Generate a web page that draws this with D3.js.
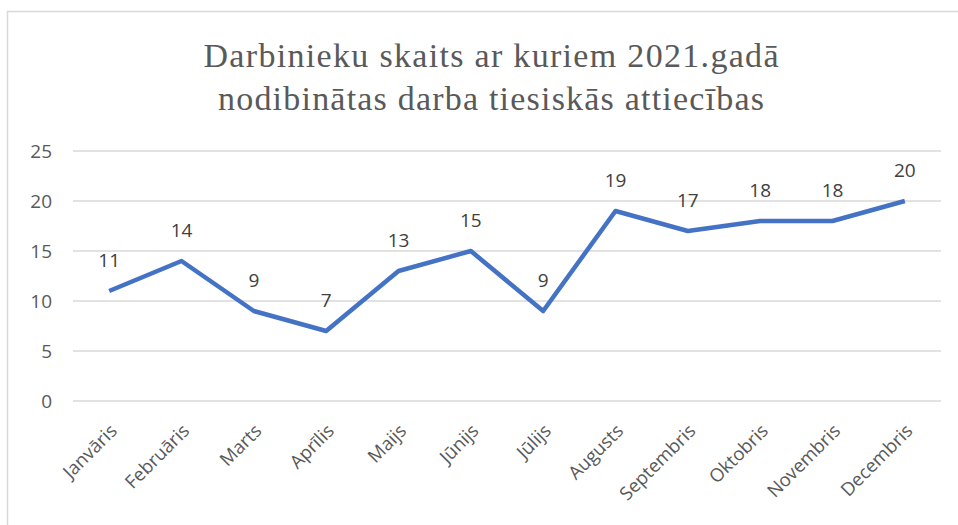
<!DOCTYPE html>
<html>
<head>
<meta charset="utf-8">
<script src="https://cdn.jsdelivr.net/npm/d3@7"></script>
<style>
  body { margin: 0; background: #fff; }
  svg { display: block; }
</style>
</head>
<body>
<script>
// chart data
var months = ["Janvāris", "Februāris", "Marts", "Aprīlis", "Maijs", "Jūnijs",
              "Jūlijs", "Augusts", "Septembris", "Oktobris", "Novembris", "Decembris"];
var counts = [11, 14, 9, 7, 13, 15, 9, 19, 17, 18, 18, 20];
var yTicks = [0, 5, 10, 15, 20, 25];
var titleLines = ["Darbinieku skaits ar kuriem 2021.gadā",
                  "nodibinātas darba tiesiskās attiecības"];

var W = 958, H = 525;
var plot = {left: 73, right: 941, top: 151, bottom: 401};
var labelFont = "'Open Sans', sans-serif";

var svg = d3.select("body")
            .append("svg")
            .attr("width", W)
            .attr("height", H);

// chart frame (only top/left visible)
svg.append("rect")
   .attr("x", 7.5)
   .attr("y", 11.5)
   .attr("width", 970)
   .attr("height", 530)
   .attr("fill", "#fff")
   .attr("stroke", "#d9d9d9")
   .attr("stroke-width", 1.5);

// title
svg.append("g")
   .selectAll("text")
   .data(titleLines)
   .enter()
   .append("text")
   .attr("x", 491)
   .attr("y", function(d, i) { return 67 + i * 43; })
   .attr("text-anchor", "middle")
   .attr("textLength", function(d, i) { return i == 0 ? 575 : 546; })
   .attr("lengthAdjust", "spacing")
   .style("font-family", "'Liberation Serif', 'Times New Roman', serif")
   .style("font-size", "34px")
   .style("fill", "#595959")
   .text(function(d) { return d; });

// scales
var xScale = d3.scaleBand()
               .domain(months)
               .range([plot.left, plot.right]);
var yScale = d3.scaleLinear()
               .domain([0, 25])
               .range([plot.bottom, plot.top]);

// gridlines
svg.append("g")
   .selectAll("line")
   .data(yTicks)
   .enter()
   .append("line")
   .attr("x1", plot.left)
   .attr("x2", plot.right)
   .attr("y1", function(d) { return yScale(d); })
   .attr("y2", function(d) { return yScale(d); })
   .attr("stroke", "#d9d9d9")
   .attr("stroke-width", 1.5);

// y axis labels
var yAxis = svg.append("g")
   .attr("transform", "translate(" + (plot.left - 14) + ",0)")
   .call(d3.axisLeft(yScale).tickValues(yTicks).tickSize(0).tickPadding(7));
yAxis.select(".domain").remove();
yAxis.selectAll("text")
     .style("font-family", labelFont)
     .style("font-size", "19px")
     .style("fill", "#595959");

// x axis labels
var xAxis = svg.append("g")
   .attr("transform", "translate(0," + plot.bottom + ")")
   .call(d3.axisBottom(xScale).tickSize(0).tickPadding(0));
xAxis.select(".domain").remove();
xAxis.selectAll("text")
     .attr("text-anchor", "end")
     .attr("transform", "translate(9,31) rotate(-45)")
     .attr("dy", 0)
     .style("font-family", labelFont)
     .style("font-size", "18.5px")
     .style("fill", "#595959");

// line
var line = d3.line()
             .x(function(d, i) { return xScale(months[i]) + xScale.bandwidth() / 2; })
             .y(function(d) { return yScale(d); });

svg.append("path")
   .datum(counts)
   .attr("d", line)
   .attr("fill", "none")
   .attr("stroke", "#4472c4")
   .attr("stroke-width", 4.5)
   .attr("stroke-linejoin", "round");

// data labels
svg.append("g")
   .selectAll("text")
   .data(counts)
   .enter()
   .append("text")
   .attr("x", function(d, i) { return xScale(months[i]) + xScale.bandwidth() / 2; })
   .attr("y", function(d) { return yScale(d) - 24; })
   .attr("text-anchor", "middle")
   .style("font-family", labelFont)
   .style("font-size", "19px")
   .style("fill", "#404040")
   .text(function(d) { return d; });
</script>
</body>
</html>
